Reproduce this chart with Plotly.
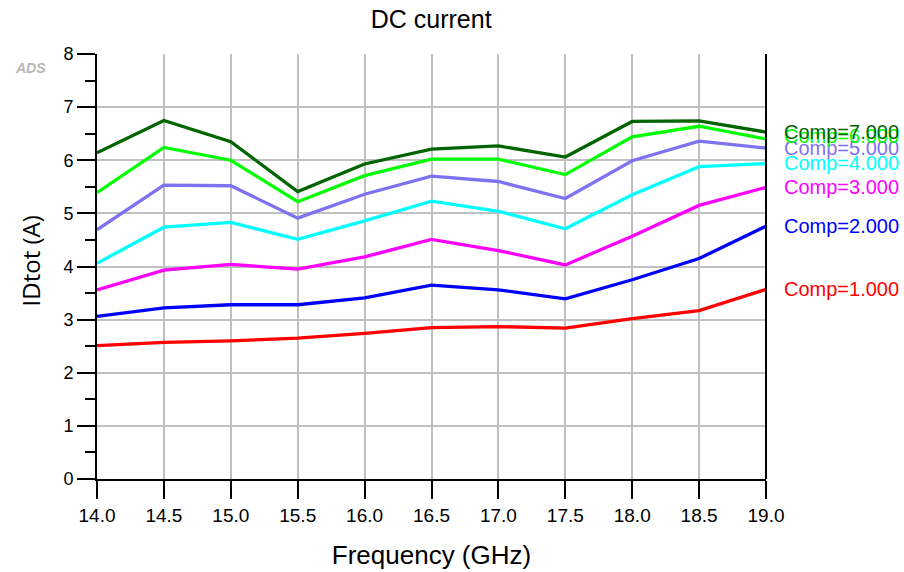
import plotly.graph_objects as go

freq = [14.0, 14.5, 15.0, 15.5, 16.0, 16.5, 17.0, 17.5, 18.0, 18.5, 19.0]
comp_labels = ["Comp=1.000", "Comp=2.000", "Comp=3.000", "Comp=4.000",
               "Comp=5.000", "Comp=6.000", "Comp=7.000"]
comp1 = [2.51, 2.57, 2.60, 2.65, 2.74, 2.85, 2.87, 2.84, 3.02, 3.17, 3.57]
comp2 = [3.06, 3.22, 3.28, 3.28, 3.41, 3.65, 3.56, 3.39, 3.75, 4.15, 4.76]
comp3 = [3.56, 3.93, 4.04, 3.95, 4.18, 4.51, 4.30, 4.03, 4.57, 5.15, 5.49]
comp4 = [4.06, 4.74, 4.83, 4.51, 4.86, 5.23, 5.04, 4.71, 5.35, 5.88, 5.94]
comp5 = [4.69, 5.53, 5.52, 4.91, 5.36, 5.70, 5.60, 5.28, 5.99, 6.36, 6.23]
comp6 = [5.39, 6.24, 6.00, 5.22, 5.71, 6.02, 6.02, 5.73, 6.44, 6.64, 6.40]
comp7 = [6.14, 6.75, 6.35, 5.41, 5.93, 6.21, 6.27, 6.06, 6.73, 6.74, 6.53]
series = [comp1, comp2, comp3, comp4, comp5, comp6, comp7]
colors = ["#ff0000", "#0000ff", "#ff00ff", "#00ffff", "#7f72f0", "#00ff00", "#006400"]
label_y = [3.57, 4.76, 5.49, 5.94, 6.23, 6.45, 6.53]

FONT = "Arial, Liberation Sans, sans-serif"

fig = go.Figure()
for name, ys, c in zip(comp_labels, series, colors):
    fig.add_trace(go.Scatter(x=freq, y=ys, mode="lines", name=name,
                             line=dict(color=c, width=3.3)))

for name, ly, c in zip(comp_labels, label_y, colors):
    fig.add_annotation(x=1.0, xref="paper", xshift=16, y=ly, yref="y",
                       text=name, showarrow=False, xanchor="left", yanchor="middle",
                       font=dict(family=FONT, size=20, color=c))

fig.add_annotation(x=-0.125, xref="paper", y=7.74, yref="y", text="<b><i>ADS</i></b>",
                   showarrow=False, xanchor="left", yanchor="middle",
                   font=dict(family=FONT, size=14, color="#b8b8b8"))

fig.add_annotation(x=-0.098, xref="paper", y=0.513, yref="paper", text="IDtot (A)",
                   showarrow=False, xanchor="center", yanchor="middle", textangle=-90,
                   font=dict(family="Open Sans, sans-serif", size=24, color="black"))

fig.add_shape(type="line", xref="paper", yref="paper", x0=1, x1=1, y0=0, y1=1,
              line=dict(color="black", width=2))

fig.update_layout(
    width=904, height=572,
    margin=dict(l=97, r=138, t=54, b=93, autoexpand=False),
    paper_bgcolor="white", plot_bgcolor="white",
    showlegend=False,
    title=dict(text="DC current", x=0.477, xanchor="center", y=0.967, yanchor="middle",
               font=dict(family=FONT, size=25, color="black")),
    font=dict(family=FONT, color="black"),
)
fig.update_xaxes(range=[14, 19], dtick=0.5, tick0=14, tickformat=".1f", automargin=False,
                 showgrid=True, gridcolor="#c0c0c0", gridwidth=1.5,
                 showline=True, linecolor="black", linewidth=2,
                 ticks="outside", ticklen=18, tickwidth=1.5, tickcolor="black",
                 tickfont=dict(size=19, family=FONT),
                 title=dict(text="Frequency (GHz)", font=dict(size=26, family=FONT), standoff=21),
                 zeroline=False)
fig.update_yaxes(range=[0, 8], dtick=1, tick0=0, automargin=False,
                 showgrid=True, gridcolor="#c0c0c0", gridwidth=1.5,
                 showline=True, linecolor="black", linewidth=2,
                 ticks="outside", ticklen=18, tickwidth=1.5, tickcolor="black",
                 minor=dict(dtick=0.5, ticks="outside", ticklen=10, tickwidth=1.5,
                            tickcolor="black", showgrid=False),
                 tickfont=dict(size=18, family=FONT),
                 zeroline=False)

fig.write_html("out.html")
